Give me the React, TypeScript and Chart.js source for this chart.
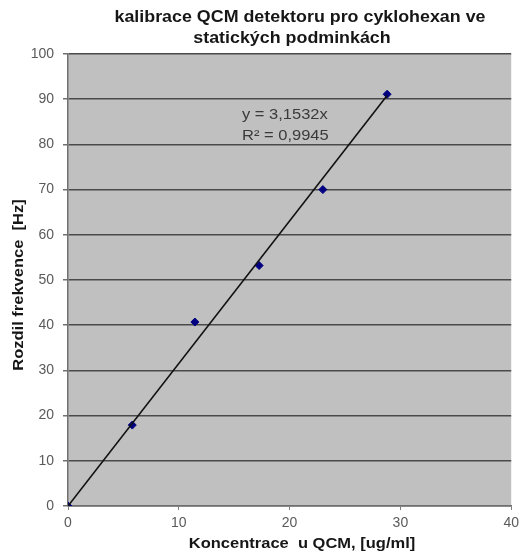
import React, { useEffect, useRef } from "react";
import { Chart, registerables } from "chart.js";

Chart.register(...registerables);

const titleLines = ["kalibrace QCM detektoru pro cyklohexan ve", "statických podminkách"];
const xTitle = "Koncentrace  u QCM, [ug/ml]";
const yTitle = "Rozdil frekvence  [Hz]";
const concentrations = [0, 5.8, 11.45, 17.25, 23.0, 28.8];
const frequencyDiff = [0, 17.9, 40.7, 53.2, 70.0, 91.1];
const trendSlope = 3.1532;
const trendX = [0, 28.8];
const equationLines = ["y = 3,1532x", "R² = 0,9945"];

const FONT = "'Liberation Sans', Arial, sans-serif";

function stretchedText(ctx: any, text: string, x: number, y: number, sx: number, rot = 0) {
  ctx.save();
  ctx.translate(x, y);
  if (rot) ctx.rotate(rot);
  ctx.scale(sx, 1);
  ctx.fillText(text, 0, 0);
  ctx.restore();
}

const labelsPlugin = {
  id: "labelsPlugin",
  afterDraw(chart: any) {
    const ctx = chart.ctx;
    ctx.save();
    ctx.fillStyle = "#161616";
    ctx.textAlign = "center";
    ctx.textBaseline = "middle";
    ctx.font = `bold 17px ${FONT}`;
    stretchedText(ctx, titleLines[0], 300, 17, 1.05);
    stretchedText(ctx, titleLines[1], 292, 38, 1.05);
    ctx.font = `bold 15px ${FONT}`;
    stretchedText(ctx, xTitle, 302, 544, 1.1);
    stretchedText(ctx, yTitle, 19, 285, 1.1, -Math.PI / 2);
    ctx.fillStyle = "#3a3a3a";
    ctx.textAlign = "left";
    ctx.textBaseline = "alphabetic";
    ctx.font = `15px ${FONT}`;
    stretchedText(ctx, equationLines[0], 242, 119, 1.1);
    stretchedText(ctx, equationLines[1], 242, 140, 1.1);
    ctx.restore();
  },
};

const bgPlugin = {
  id: "bgPlugin",
  beforeDraw(chart: any) {
    const { ctx, chartArea } = chart;
    ctx.save();
    ctx.fillStyle = "#c0c0c0";
    ctx.fillRect(chartArea.left, chartArea.top, chartArea.right - chartArea.left, chartArea.bottom - chartArea.top);
    ctx.restore();
  },
};

export default function App() {
  const ref = useRef<HTMLCanvasElement>(null);
  useEffect(() => {
    const points = concentrations.map((x, i) => ({ x, y: frequencyDiff[i] }));
    const trend = trendX.map((x) => ({ x, y: trendSlope * x }));
    const chart = new Chart(ref.current as HTMLCanvasElement, {
      type: "scatter",
      data: {
        datasets: [
          {
            type: "line",
            data: trend,
            borderColor: "#111",
            borderWidth: 1.6,
            pointRadius: 0,
            showLine: true,
            fill: false,
          },
          {
            data: points,
            pointStyle: "rectRot",
            pointRadius: 4,
            backgroundColor: "#000080",
            borderColor: "#000080",
            borderWidth: 1,
          },
        ],
      } as any,
      options: {
        animation: false,
        responsive: false,
        layout: { padding: { left: 0, right: 11, top: 54, bottom: 0 } },
        plugins: { legend: { display: false }, tooltip: { enabled: false }, title: { display: false } },
        scales: {
          x: {
            type: "linear",
            min: 0,
            max: 40,
            ticks: { stepSize: 10, color: "#5a5a5a", font: { size: 14, family: FONT }, padding: 5 },
            grid: { drawOnChartArea: false, drawTicks: true, tickLength: 4, color: "#808080" },
            border: { color: "#707070", width: 1.5 },
            afterFit: (s: any) => { s.height = 50; },
          },
          y: {
            type: "linear",
            min: 0,
            max: 100,
            ticks: { stepSize: 10, color: "#5a5a5a", font: { size: 14, family: FONT }, padding: 9 },
            grid: { color: "#4a4a4a", lineWidth: 1.5, tickLength: 5, tickColor: "#707070" },
            border: { color: "#707070", width: 1.5 },
            afterFit: (s: any) => { s.width = 68; },
          },
        },
      },
      plugins: [bgPlugin, labelsPlugin],
    });
    return () => chart.destroy();
  }, []);
  return (
    <div style={{ position: "absolute", left: 0, top: 0, width: 524, height: 556, background: "#fff" }}>
      <canvas ref={ref} width={524} height={556} style={{ display: "block" }} />
    </div>
  );
}
